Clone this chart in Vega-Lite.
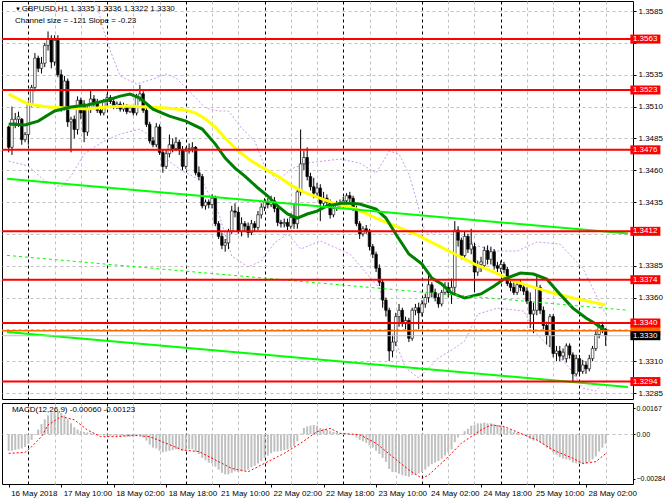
{
"$schema": "https://vega.github.io/schema/vega-lite/v6.json",
"padding": 0,
"background": "white",
"config": {"font": "Liberation Sans", "view": {"stroke": "black", "strokeWidth": 1}, "concat": {"spacing": 2},
  "axis": {"labelFontSize": 8, "labelColor": "black", "labelFont": "Liberation Sans", "title": null, "tickCount": 200}},
"datasets": {
"candles": [
{"i":0,"o":1.3494,"h":1.3495,"l":1.3474,"c":1.3478,"m":-0.00105},
{"i":1,"o":1.3478,"h":1.3510,"l":1.3472,"c":1.3500,"m":-0.00105},
{"i":2,"o":1.3497,"h":1.3505,"l":1.3493,"c":1.3500,"m":-0.00100},
{"i":3,"o":1.3500,"h":1.3506,"l":1.3494,"c":1.3502,"m":-0.00095},
{"i":4,"o":1.3500,"h":1.3501,"l":1.3480,"c":1.3484,"m":-0.00090},
{"i":5,"o":1.3484,"h":1.3490,"l":1.3482,"c":1.3488,"m":-0.00080},
{"i":6,"o":1.3488,"h":1.3514,"l":1.3480,"c":1.3512,"m":-0.00060},
{"i":7,"o":1.3512,"h":1.3527,"l":1.3510,"c":1.3525,"m":-0.00035},
{"i":8,"o":1.3525,"h":1.3552,"l":1.3522,"c":1.3548,"m":-0.00005},
{"i":9,"o":1.3548,"h":1.3550,"l":1.3537,"c":1.3540,"m":0.00030},
{"i":10,"o":1.3540,"h":1.3549,"l":1.3536,"c":1.3544,"m":0.00065},
{"i":11,"o":1.3544,"h":1.3560,"l":1.3541,"c":1.3558,"m":0.00095},
{"i":12,"o":1.3558,"h":1.3569,"l":1.3554,"c":1.3563,"m":0.00120},
{"i":13,"o":1.3563,"h":1.3566,"l":1.3540,"c":1.3545,"m":0.00140},
{"i":14,"o":1.3545,"h":1.3566,"l":1.3542,"c":1.3562,"m":0.00145},
{"i":15,"o":1.3562,"h":1.3566,"l":1.3533,"c":1.3535,"m":0.00145},
{"i":16,"o":1.3535,"h":1.3539,"l":1.3506,"c":1.3509,"m":0.00135},
{"i":17,"o":1.3510,"h":1.3534,"l":1.3507,"c":1.3530,"m":0.00120},
{"i":18,"o":1.3530,"h":1.3532,"l":1.3494,"c":1.3498,"m":0.00095},
{"i":19,"o":1.3498,"h":1.3502,"l":1.3474,"c":1.3500,"m":0.00070},
{"i":20,"o":1.3500,"h":1.3503,"l":1.3485,"c":1.3492,"m":0.00045},
{"i":21,"o":1.3492,"h":1.3518,"l":1.3488,"c":1.3515,"m":0.00030},
{"i":22,"o":1.3515,"h":1.3517,"l":1.3500,"c":1.3505,"m":0.00020},
{"i":23,"o":1.3512,"h":1.3515,"l":1.3482,"c":1.3490,"m":0.00015},
{"i":24,"o":1.3490,"h":1.3510,"l":1.3487,"c":1.3508,"m":0.00012},
{"i":25,"o":1.3508,"h":1.3523,"l":1.3505,"c":1.3516,"m":0.00010},
{"i":26,"o":1.3516,"h":1.3519,"l":1.3510,"c":1.3513,"m":0.00005},
{"i":27,"o":1.3513,"h":1.3516,"l":1.3505,"c":1.3507,"m":0.0},
{"i":28,"o":1.3507,"h":1.3510,"l":1.3503,"c":1.3505,"m":-0.00005},
{"i":29,"o":1.3505,"h":1.3516,"l":1.3503,"c":1.3514,"m":-0.00008},
{"i":30,"o":1.3514,"h":1.3520,"l":1.3510,"c":1.3517,"m":-0.00008},
{"i":31,"o":1.3517,"h":1.3519,"l":1.3512,"c":1.3514,"m":-0.00010},
{"i":32,"o":1.3514,"h":1.3517,"l":1.3508,"c":1.3510,"m":-0.00010},
{"i":33,"o":1.3510,"h":1.3514,"l":1.3508,"c":1.3512,"m":-0.00012},
{"i":34,"o":1.3512,"h":1.3514,"l":1.3506,"c":1.3508,"m":-0.00012},
{"i":35,"o":1.3508,"h":1.3513,"l":1.3506,"c":1.3510,"m":-0.00013},
{"i":36,"o":1.3510,"h":1.3512,"l":1.3504,"c":1.3506,"m":-0.00015},
{"i":37,"o":1.3506,"h":1.3511,"l":1.3505,"c":1.3509,"m":-0.00015},
{"i":38,"o":1.3509,"h":1.3510,"l":1.3503,"c":1.3505,"m":-0.00018},
{"i":39,"o":1.3505,"h":1.3520,"l":1.3503,"c":1.3517,"m":-0.00010},
{"i":40,"o":1.3517,"h":1.3527,"l":1.3514,"c":1.3520,"m":-0.00005},
{"i":41,"o":1.3520,"h":1.3522,"l":1.3505,"c":1.3507,"m":-0.00020},
{"i":42,"o":1.3507,"h":1.3509,"l":1.3494,"c":1.3496,"m":-0.00040},
{"i":43,"o":1.3496,"h":1.3498,"l":1.3481,"c":1.3483,"m":-0.00065},
{"i":44,"o":1.3483,"h":1.3486,"l":1.3478,"c":1.3480,"m":-0.00085},
{"i":45,"o":1.3480,"h":1.3497,"l":1.3478,"c":1.3494,"m":-0.00090},
{"i":46,"o":1.3494,"h":1.3496,"l":1.3472,"c":1.3474,"m":-0.00105},
{"i":47,"o":1.3474,"h":1.3476,"l":1.3458,"c":1.3463,"m":-0.00115},
{"i":48,"o":1.3463,"h":1.3476,"l":1.3461,"c":1.3473,"m":-0.00110},
{"i":49,"o":1.3473,"h":1.3488,"l":1.3470,"c":1.3480,"m":-0.00105},
{"i":50,"o":1.3480,"h":1.3485,"l":1.3474,"c":1.3477,"m":-0.00100},
{"i":51,"o":1.3477,"h":1.3486,"l":1.3475,"c":1.3482,"m":-0.00095},
{"i":52,"o":1.3482,"h":1.3484,"l":1.3472,"c":1.3476,"m":-0.00095},
{"i":53,"o":1.3476,"h":1.3479,"l":1.3460,"c":1.3463,"m":-0.00105},
{"i":54,"o":1.3463,"h":1.3478,"l":1.3461,"c":1.3475,"m":-0.00100},
{"i":55,"o":1.3475,"h":1.3481,"l":1.3473,"c":1.3477,"m":-0.00095},
{"i":56,"o":1.3477,"h":1.3482,"l":1.3474,"c":1.3478,"m":-0.00095},
{"i":57,"o":1.3478,"h":1.3479,"l":1.3456,"c":1.3458,"m":-0.00110},
{"i":58,"o":1.3458,"h":1.3463,"l":1.3452,"c":1.3455,"m":-0.00125},
{"i":59,"o":1.3455,"h":1.3457,"l":1.3430,"c":1.3432,"m":-0.00150},
{"i":60,"o":1.3432,"h":1.3437,"l":1.3429,"c":1.3435,"m":-0.00165},
{"i":61,"o":1.3435,"h":1.3437,"l":1.3430,"c":1.3433,"m":-0.00180},
{"i":62,"o":1.3433,"h":1.3441,"l":1.3430,"c":1.3438,"m":-0.00185},
{"i":63,"o":1.3438,"h":1.3440,"l":1.3416,"c":1.3418,"m":-0.00205},
{"i":64,"o":1.3418,"h":1.3420,"l":1.3406,"c":1.3408,"m":-0.00225},
{"i":65,"o":1.3408,"h":1.3411,"l":1.3398,"c":1.3401,"m":-0.00245},
{"i":66,"o":1.3401,"h":1.3406,"l":1.3396,"c":1.3403,"m":-0.00255},
{"i":67,"o":1.3403,"h":1.3414,"l":1.3398,"c":1.3412,"m":-0.00255},
{"i":68,"o":1.3412,"h":1.3432,"l":1.3410,"c":1.3428,"m":-0.00245},
{"i":69,"o":1.3428,"h":1.3434,"l":1.3423,"c":1.3427,"m":-0.00235},
{"i":70,"o":1.3427,"h":1.3431,"l":1.3410,"c":1.3412,"m":-0.00240},
{"i":71,"o":1.3412,"h":1.3423,"l":1.3408,"c":1.3418,"m":-0.00235},
{"i":72,"o":1.3418,"h":1.3420,"l":1.3412,"c":1.3416,"m":-0.00230},
{"i":73,"o":1.3416,"h":1.3419,"l":1.3407,"c":1.3411,"m":-0.00225},
{"i":74,"o":1.3411,"h":1.3421,"l":1.3409,"c":1.3418,"m":-0.00210},
{"i":75,"o":1.3418,"h":1.3420,"l":1.3412,"c":1.3415,"m":-0.00200},
{"i":76,"o":1.3415,"h":1.3428,"l":1.3413,"c":1.3425,"m":-0.00185},
{"i":77,"o":1.3425,"h":1.3434,"l":1.3422,"c":1.3431,"m":-0.00170},
{"i":78,"o":1.3431,"h":1.3438,"l":1.3428,"c":1.3435,"m":-0.00150},
{"i":79,"o":1.3435,"h":1.3438,"l":1.3430,"c":1.3433,"m":-0.00135},
{"i":80,"o":1.3433,"h":1.3440,"l":1.3431,"c":1.3436,"m":-0.00120},
{"i":81,"o":1.3436,"h":1.3439,"l":1.3427,"c":1.3430,"m":-0.00110},
{"i":82,"o":1.3430,"h":1.3432,"l":1.3416,"c":1.3419,"m":-0.00110},
{"i":83,"o":1.3419,"h":1.3421,"l":1.3415,"c":1.3418,"m":-0.00105},
{"i":84,"o":1.3418,"h":1.3422,"l":1.3415,"c":1.3419,"m":-0.00100},
{"i":85,"o":1.3419,"h":1.3422,"l":1.3413,"c":1.3416,"m":-0.00095},
{"i":86,"o":1.3416,"h":1.3426,"l":1.3414,"c":1.3423,"m":-0.00085},
{"i":87,"o":1.3423,"h":1.3433,"l":1.3414,"c":1.3418,"m":-0.00075},
{"i":88,"o":1.3418,"h":1.3446,"l":1.3414,"c":1.3443,"m":-0.00045},
{"i":89,"o":1.3443,"h":1.3492,"l":1.3440,"c":1.3465,"m":0.00005},
{"i":90,"o":1.3465,"h":1.3475,"l":1.3460,"c":1.3470,"m":0.00040},
{"i":91,"o":1.3470,"h":1.3478,"l":1.3452,"c":1.3455,"m":0.00050},
{"i":92,"o":1.3455,"h":1.3458,"l":1.3444,"c":1.3447,"m":0.00055},
{"i":93,"o":1.3447,"h":1.3454,"l":1.3438,"c":1.3442,"m":0.00060},
{"i":94,"o":1.3442,"h":1.3450,"l":1.3440,"c":1.3446,"m":0.00055},
{"i":95,"o":1.3446,"h":1.3449,"l":1.3420,"c":1.3434,"m":0.00040},
{"i":96,"o":1.3434,"h":1.3443,"l":1.3430,"c":1.3438,"m":0.00035},
{"i":97,"o":1.3438,"h":1.3441,"l":1.3432,"c":1.3435,"m":0.00030},
{"i":98,"o":1.3435,"h":1.3437,"l":1.3422,"c":1.3425,"m":0.00020},
{"i":99,"o":1.3425,"h":1.3433,"l":1.3423,"c":1.3430,"m":0.00015},
{"i":100,"o":1.3430,"h":1.3436,"l":1.3428,"c":1.3434,"m":0.00012},
{"i":101,"o":1.3434,"h":1.3437,"l":1.3431,"c":1.3433,"m":0.00008},
{"i":102,"o":1.3433,"h":1.3439,"l":1.3431,"c":1.3436,"m":0.00005},
{"i":103,"o":1.3436,"h":1.3442,"l":1.3433,"c":1.3440,"m":0.00005},
{"i":104,"o":1.3440,"h":1.3443,"l":1.3435,"c":1.3438,"m":0.00002},
{"i":105,"o":1.3438,"h":1.3440,"l":1.3428,"c":1.3430,"m":-0.00005},
{"i":106,"o":1.3430,"h":1.3432,"l":1.3416,"c":1.3418,"m":-0.00020},
{"i":107,"o":1.3418,"h":1.3420,"l":1.3406,"c":1.3410,"m":-0.00035},
{"i":108,"o":1.3410,"h":1.3416,"l":1.3408,"c":1.3414,"m":-0.00045},
{"i":109,"o":1.3414,"h":1.3417,"l":1.3410,"c":1.3412,"m":-0.00055},
{"i":110,"o":1.3412,"h":1.3414,"l":1.3397,"c":1.3400,"m":-0.00070},
{"i":111,"o":1.3400,"h":1.3402,"l":1.3391,"c":1.3394,"m":-0.00085},
{"i":112,"o":1.3394,"h":1.3396,"l":1.3380,"c":1.3383,"m":-0.00105},
{"i":113,"o":1.3383,"h":1.3386,"l":1.3369,"c":1.3372,"m":-0.00125},
{"i":114,"o":1.3372,"h":1.3374,"l":1.3352,"c":1.3358,"m":-0.00150},
{"i":115,"o":1.3358,"h":1.3360,"l":1.3345,"c":1.3350,"m":-0.00175},
{"i":116,"o":1.3350,"h":1.3352,"l":1.3310,"c":1.3318,"m":-0.00220},
{"i":117,"o":1.3318,"h":1.3330,"l":1.3313,"c":1.3325,"m":-0.00240},
{"i":118,"o":1.3325,"h":1.3348,"l":1.3322,"c":1.3345,"m":-0.00240},
{"i":119,"o":1.3345,"h":1.3355,"l":1.3337,"c":1.3350,"m":-0.00250},
{"i":120,"o":1.3350,"h":1.3352,"l":1.3337,"c":1.3340,"m":-0.00260},
{"i":121,"o":1.3340,"h":1.3345,"l":1.3335,"c":1.3342,"m":-0.00265},
{"i":122,"o":1.3342,"h":1.3344,"l":1.3325,"c":1.3328,"m":-0.00270},
{"i":123,"o":1.3328,"h":1.3352,"l":1.3326,"c":1.3350,"m":-0.00260},
{"i":124,"o":1.3350,"h":1.3355,"l":1.3346,"c":1.3352,"m":-0.00255},
{"i":125,"o":1.3352,"h":1.3356,"l":1.3335,"c":1.3348,"m":-0.00250},
{"i":126,"o":1.3348,"h":1.3358,"l":1.3345,"c":1.3355,"m":-0.00240},
{"i":127,"o":1.3355,"h":1.3363,"l":1.3352,"c":1.3360,"m":-0.00225},
{"i":128,"o":1.3360,"h":1.3378,"l":1.3356,"c":1.3370,"m":-0.00205},
{"i":129,"o":1.3370,"h":1.3372,"l":1.3360,"c":1.3364,"m":-0.00190},
{"i":130,"o":1.3364,"h":1.3367,"l":1.3357,"c":1.3360,"m":-0.00180},
{"i":131,"o":1.3360,"h":1.3363,"l":1.3352,"c":1.3355,"m":-0.00170},
{"i":132,"o":1.3355,"h":1.3366,"l":1.3353,"c":1.3364,"m":-0.00155},
{"i":133,"o":1.3364,"h":1.3372,"l":1.3362,"c":1.3368,"m":-0.00135},
{"i":134,"o":1.3368,"h":1.3372,"l":1.3360,"c":1.3364,"m":-0.00115},
{"i":135,"o":1.3364,"h":1.3375,"l":1.3355,"c":1.3368,"m":-0.00095},
{"i":136,"o":1.3368,"h":1.3420,"l":1.3362,"c":1.3413,"m":-0.00050},
{"i":137,"o":1.3413,"h":1.3416,"l":1.3400,"c":1.3405,"m":-0.00020},
{"i":138,"o":1.3405,"h":1.3407,"l":1.3390,"c":1.3393,"m":-0.00005},
{"i":139,"o":1.3393,"h":1.3412,"l":1.3390,"c":1.3408,"m":0.00020},
{"i":140,"o":1.3408,"h":1.3410,"l":1.3395,"c":1.3398,"m":0.00035},
{"i":141,"o":1.3398,"h":1.3414,"l":1.3394,"c":1.3402,"m":0.00055},
{"i":142,"o":1.3400,"h":1.3403,"l":1.3364,"c":1.3380,"m":0.00060},
{"i":143,"o":1.3380,"h":1.3389,"l":1.3377,"c":1.3386,"m":0.00070},
{"i":144,"o":1.3386,"h":1.3392,"l":1.3380,"c":1.3388,"m":0.00070},
{"i":145,"o":1.3385,"h":1.3400,"l":1.3383,"c":1.3397,"m":0.00075},
{"i":146,"o":1.3397,"h":1.3401,"l":1.3386,"c":1.3390,"m":0.00070},
{"i":147,"o":1.3390,"h":1.3400,"l":1.3386,"c":1.3396,"m":0.00070},
{"i":148,"o":1.3396,"h":1.3398,"l":1.3382,"c":1.3385,"m":0.00065},
{"i":149,"o":1.3385,"h":1.3388,"l":1.3380,"c":1.3383,"m":0.00060},
{"i":150,"o":1.3383,"h":1.3389,"l":1.3380,"c":1.3386,"m":0.00055},
{"i":151,"o":1.3386,"h":1.3388,"l":1.3379,"c":1.3382,"m":0.00045},
{"i":152,"o":1.3382,"h":1.3384,"l":1.3369,"c":1.3371,"m":0.00035},
{"i":153,"o":1.3371,"h":1.3374,"l":1.3365,"c":1.3368,"m":0.00025},
{"i":154,"o":1.3368,"h":1.3372,"l":1.3362,"c":1.3364,"m":0.00015},
{"i":155,"o":1.3364,"h":1.3373,"l":1.3362,"c":1.3370,"m":0.00010},
{"i":156,"o":1.3370,"h":1.3374,"l":1.3365,"c":1.3368,"m":0.00005},
{"i":157,"o":1.3368,"h":1.3371,"l":1.3362,"c":1.3365,"m":-0.00005},
{"i":158,"o":1.3365,"h":1.3368,"l":1.3355,"c":1.3357,"m":-0.00015},
{"i":159,"o":1.3357,"h":1.3364,"l":1.3336,"c":1.3347,"m":-0.00030},
{"i":160,"o":1.3347,"h":1.3356,"l":1.3332,"c":1.3350,"m":-0.00040},
{"i":161,"o":1.3350,"h":1.3377,"l":1.3346,"c":1.3368,"m":-0.00035},
{"i":162,"o":1.3368,"h":1.3370,"l":1.3347,"c":1.3350,"m":-0.00050},
{"i":163,"o":1.3350,"h":1.3353,"l":1.3335,"c":1.3338,"m":-0.00065},
{"i":164,"o":1.3338,"h":1.3341,"l":1.3323,"c":1.3330,"m":-0.00085},
{"i":165,"o":1.3330,"h":1.3347,"l":1.3321,"c":1.3345,"m":-0.00095},
{"i":166,"o":1.3345,"h":1.3347,"l":1.3313,"c":1.3316,"m":-0.00115},
{"i":167,"o":1.3316,"h":1.3322,"l":1.3310,"c":1.3318,"m":-0.00130},
{"i":168,"o":1.3318,"h":1.3322,"l":1.3310,"c":1.3314,"m":-0.00145},
{"i":169,"o":1.3314,"h":1.3320,"l":1.3311,"c":1.3317,"m":-0.00155},
{"i":170,"o":1.3312,"h":1.3324,"l":1.3309,"c":1.3322,"m":-0.00160},
{"i":171,"o":1.3322,"h":1.3324,"l":1.3312,"c":1.3315,"m":-0.00165},
{"i":172,"o":1.3315,"h":1.3317,"l":1.3293,"c":1.3300,"m":-0.00180},
{"i":173,"o":1.3300,"h":1.3315,"l":1.3298,"c":1.3312,"m":-0.00185},
{"i":174,"o":1.3312,"h":1.3315,"l":1.3299,"c":1.3302,"m":-0.00190},
{"i":175,"o":1.3302,"h":1.3311,"l":1.3300,"c":1.3307,"m":-0.00190},
{"i":176,"o":1.3307,"h":1.3310,"l":1.3300,"c":1.3304,"m":-0.00185},
{"i":177,"o":1.3304,"h":1.3315,"l":1.3302,"c":1.3312,"m":-0.00175},
{"i":178,"o":1.3312,"h":1.3322,"l":1.3310,"c":1.3320,"m":-0.00160},
{"i":179,"o":1.3320,"h":1.3334,"l":1.3318,"c":1.3331,"m":-0.00140},
{"i":180,"o":1.3331,"h":1.3340,"l":1.3328,"c":1.3338,"m":-0.00110},
{"i":181,"o":1.3338,"h":1.3341,"l":1.3332,"c":1.3335,"m":-0.00085},
{"i":182,"o":1.3335,"h":1.3336,"l":1.3322,"c":1.3330,"m":-0.00060}
],
"maYellow": [
{"i":0,"v":1.35198},{"i":6,"v":1.35120},{"i":12,"v":1.35096},{"i":18,"v":1.35088},{"i":24,"v":1.35080},{"i":30,"v":1.35096},{"i":36,"v":1.35104},{"i":42,"v":1.35096},{"i":48,"v":1.35088},{"i":54,"v":1.35072},{"i":57,"v":1.35049},{"i":60,"v":1.35002},{"i":63,"v":1.34939},{"i":66,"v":1.34853},{"i":70,"v":1.34750},{"i":74,"v":1.34672},{"i":78,"v":1.34609},{"i":82,"v":1.34554},{"i":86,"v":1.34483},{"i":90,"v":1.34428},{"i":94,"v":1.34389},{"i":100,"v":1.34334},{"i":106,"v":1.34295},{"i":112,"v":1.34224},{"i":118,"v":1.34161},{"i":124,"v":1.34099},{"i":130,"v":1.34020},{"i":136,"v":1.33942},{"i":142,"v":1.33863},{"i":148,"v":1.33800},{"i":154,"v":1.33729},{"i":160,"v":1.33682},{"i":166,"v":1.33635},{"i":172,"v":1.33596},{"i":178,"v":1.33564},{"i":182,"v":1.33541}
],
"maGreen": [
{"i":0,"v":1.34963},{"i":5,"v":1.34955},{"i":9,"v":1.34986},{"i":14,"v":1.35065},{"i":19,"v":1.35096},{"i":24,"v":1.35112},{"i":29,"v":1.35143},{"i":34,"v":1.35182},{"i":37,"v":1.35198},{"i":40,"v":1.35167},{"i":44,"v":1.35080},{"i":49,"v":1.35025},{"i":54,"v":1.34986},{"i":59,"v":1.34923},{"i":63,"v":1.34805},{"i":66,"v":1.34695},{"i":69,"v":1.34617},{"i":72,"v":1.34554},{"i":76,"v":1.34460},{"i":79,"v":1.34397},{"i":82,"v":1.34319},{"i":85,"v":1.34256},{"i":88,"v":1.34224},{"i":91,"v":1.34256},{"i":94,"v":1.34279},{"i":97,"v":1.34319},{"i":102,"v":1.34342},{"i":107,"v":1.34334},{"i":112,"v":1.34295},{"i":115,"v":1.34224},{"i":118,"v":1.34099},{"i":122,"v":1.33942},{"i":126,"v":1.33863},{"i":129,"v":1.33753},{"i":132,"v":1.33706},{"i":135,"v":1.33635},{"i":139,"v":1.33596},{"i":144,"v":1.33628},{"i":148,"v":1.33690},{"i":151,"v":1.33745},{"i":156,"v":1.33792},{"i":160,"v":1.33784},{"i":164,"v":1.33745},{"i":168,"v":1.33628},{"i":172,"v":1.33517},{"i":176,"v":1.33439},{"i":179,"v":1.33392},{"i":182,"v":1.33337}
],
"bandUpper": [
{"i":24,"v":1.36007},{"i":27,"v":1.35889},{"i":29,"v":1.35693},{"i":31,"v":1.35536},{"i":34,"v":1.35340},{"i":39,"v":1.35277},{"i":44,"v":1.35316},{"i":48,"v":1.35355},{"i":51,"v":1.35324},{"i":55,"v":1.35222},{"i":60,"v":1.35088},{"i":64,"v":1.35065},{"i":67,"v":1.35065},{"i":71,"v":1.34931},{"i":75,"v":1.34829},{"i":78,"v":1.34633},{"i":82,"v":1.34515},{"i":86,"v":1.34609},{"i":91,"v":1.34656},{"i":101,"v":1.34688},{"i":107,"v":1.34656},{"i":112,"v":1.34578},{"i":116,"v":1.34750},{"i":119,"v":1.34727},{"i":122,"v":1.34570},{"i":124,"v":1.34397},{"i":127,"v":1.34106},{"i":136,"v":1.34122},{"i":143,"v":1.34004},{"i":149,"v":1.33965},{"i":155,"v":1.33965},{"i":161,"v":1.34036},{"i":168,"v":1.34020},{"i":175,"v":1.33831},{"i":180,"v":1.33572},{"i":182,"v":1.33470}
],
"bandLower": [
{"i":0,"v":1.34672},{"i":6,"v":1.34633},{"i":11,"v":1.34515},{"i":16,"v":1.34468},{"i":19,"v":1.34554},{"i":23,"v":1.34727},{"i":29,"v":1.34829},{"i":34,"v":1.34884},{"i":40,"v":1.34923},{"i":44,"v":1.34853},{"i":48,"v":1.34688},{"i":53,"v":1.34593},{"i":59,"v":1.34515},{"i":64,"v":1.34263},{"i":68,"v":1.33926},{"i":73,"v":1.33839},{"i":77,"v":1.33887},{"i":81,"v":1.34028},{"i":85,"v":1.34099},{"i":89,"v":1.33981},{"i":95,"v":1.34044},{"i":104,"v":1.33942},{"i":113,"v":1.33674},{"i":117,"v":1.33313},{"i":121,"v":1.33046},{"i":125,"v":1.32968},{"i":131,"v":1.33125},{"i":136,"v":1.33203},{"i":139,"v":1.33258},{"i":143,"v":1.33470},{"i":149,"v":1.33517},{"i":157,"v":1.33494},{"i":161,"v":1.33313},{"i":167,"v":1.33156},{"i":171,"v":1.33046},{"i":175,"v":1.32889},{"i":179,"v":1.32866},{"i":182,"v":1.32944}
],
"channel": [
{"line":"upper","i":-0.51,"v":1.34533},{"line":"upper","i":188.8,"v":1.34102},
{"line":"lower","i":-0.51,"v":1.33329},{"line":"lower","i":188.8,"v":1.32898},
{"line":"middle","i":-0.51,"v":1.33931},{"line":"middle","i":188.8,"v":1.33500}
],
"levels": [
{"level":1.3334,"label":"1.3334","kind":"ask"},
{"level":1.3563,"label":"1.3563","kind":"level"},
{"level":1.3523,"label":"1.3523","kind":"level"},
{"level":1.3476,"label":"1.3476","kind":"level"},
{"level":1.3412,"label":"1.3412","kind":"level"},
{"level":1.3374,"label":"1.3374","kind":"level"},
{"level":1.3340,"label":"1.3340","kind":"level"},
{"level":1.3294,"label":"1.3294","kind":"level"},
{"level":1.3330,"label":"1.3330","kind":"bid"}
],
"signal": [
{"i":0,"v":-0.00121},{"i":5,"v":-0.00115},{"i":7,"v":-0.00079},{"i":10,"v":-0.00015},{"i":12,"v":0.00060},{"i":16,"v":0.00113},{"i":20,"v":0.00092},{"i":24,"v":0.00028},{"i":28,"v":-0.00015},{"i":33,"v":-0.00015},{"i":38,"v":-0.00006},{"i":43,"v":-0.00015},{"i":48,"v":-0.00057},{"i":53,"v":-0.00100},{"i":58,"v":-0.00110},{"i":63,"v":-0.00163},{"i":68,"v":-0.00217},{"i":73,"v":-0.00238},{"i":79,"v":-0.00174},{"i":84,"v":-0.00121},{"i":89,"v":-0.00057},{"i":94,"v":0.00017},{"i":98,"v":0.00038},{"i":101,"v":0.00006},{"i":107,"v":-0.00002},{"i":112,"v":-0.00057},{"i":117,"v":-0.00142},{"i":122,"v":-0.00227},{"i":126,"v":-0.00280},{"i":128,"v":-0.00259},{"i":133,"v":-0.00163},{"i":138,"v":-0.00057},{"i":144,"v":0.00028},{"i":147,"v":0.00059},{"i":151,"v":0.00049},{"i":156,"v":0.00006},{"i":161,"v":-0.00036},{"i":166,"v":-0.00100},{"i":172,"v":-0.00153},{"i":175,"v":-0.00185},{"i":179,"v":-0.00174},{"i":182,"v":-0.00123}
]
},
"vconcat": [
{
"width": 631, "height": 398,
"layer": [
{"data": {"name": "bandUpper"}, "mark": {"type": "line", "color": "#cc99ee", "strokeWidth": 1, "strokeDash": [2, 2], "clip": true},
 "encoding": {
  "x": {"field": "i", "type": "quantitative", "scale": {"domain": [-0.51, 188.8], "nice": false, "zero": false},
    "axis": {"values": [6,14,22,30,38,46,54,62,70,78,86,94,102,110,118,126,134,142,150,158,166,174,182], "tickCount": 200, "labels": false, "ticks": false, "domain": false, "grid": true, "gridDash": [3, 3], "gridWidth": 1,
      "gridColor": {"condition": {"test": "datum.value % 24 == 6", "value": "#000000"}, "value": "#c0c0c0"}}},
  "y": {"field": "v", "type": "quantitative", "scale": {"domain": [1.32803, 1.35929], "nice": false, "zero": false},
    "axis": {"orient": "right", "values": [1.3285,1.3310,1.3335,1.3360,1.3385,1.3410,1.3435,1.3460,1.3485,1.3510,1.3535,1.3560,1.3585], "tickCount": 200,
      "labelExpr": "abs(datum.value - 1.3335) < 0.00001 || abs(datum.value - 1.3410) < 0.00001 || abs(datum.value - 1.3560) < 0.00001 ? '' : format(datum.value, '.4f')",
      "grid": true, "gridColor": "#c0c0c0", "gridDash": [3, 3], "tickSize": 3, "tickColor": "#000000", "domain": false, "labelPadding": 2, "labelOverlap": false, "labelFlush": false}}
 }},
{"data": {"name": "bandLower"}, "mark": {"type": "line", "color": "#cc99ee", "strokeWidth": 1, "strokeDash": [2, 2], "clip": true},
 "encoding": {"x": {"field": "i", "type": "quantitative"}, "y": {"field": "v", "type": "quantitative"}}},
{"data": {"name": "candles"}, "mark": {"type": "rule", "color": "#000000", "strokeWidth": 1},
 "encoding": {"x": {"field": "i", "type": "quantitative"}, "y": {"field": "l", "type": "quantitative"}, "y2": {"field": "h"}}},
{"data": {"name": "candles"}, "mark": {"type": "bar", "width": 2.6, "stroke": "#000000", "strokeWidth": 0.6},
 "encoding": {"x": {"field": "i", "type": "quantitative"}, "y": {"field": "o", "type": "quantitative"}, "y2": {"field": "c"},
  "fill": {"condition": {"test": "datum.c >= datum.o", "value": "#ffffff"}, "value": "#000000"}}},
{"data": {"name": "maYellow"}, "mark": {"type": "line", "color": "#ffff00", "strokeWidth": 3},
 "encoding": {"x": {"field": "i", "type": "quantitative"}, "y": {"field": "v", "type": "quantitative"}}},
{"data": {"name": "maGreen"}, "mark": {"type": "line", "color": "#008000", "strokeWidth": 3},
 "encoding": {"x": {"field": "i", "type": "quantitative"}, "y": {"field": "v", "type": "quantitative"}}},
{"data": {"name": "channel"}, "transform": [{"filter": "datum.line != 'middle'"}], "mark": {"type": "line", "color": "#00ff00", "strokeWidth": 2, "clip": true},
 "encoding": {"x": {"field": "i", "type": "quantitative"}, "y": {"field": "v", "type": "quantitative"}, "detail": {"field": "line"}}},
{"data": {"name": "channel"}, "transform": [{"filter": "datum.line == 'middle'"}], "mark": {"type": "line", "color": "#00ff00", "strokeWidth": 1, "strokeDash": [3, 3], "clip": true},
 "encoding": {"x": {"field": "i", "type": "quantitative"}, "y": {"field": "v", "type": "quantitative"}}},
{"data": {"name": "levels"}, "mark": {"type": "rule"},
 "encoding": {"y": {"field": "level", "type": "quantitative"},
  "stroke": {"field": "kind", "type": "nominal", "scale": {"domain": ["level", "ask", "bid"], "range": ["#ff0000", "#ff6a00", "#c0c0c0"]}, "legend": null},
  "strokeWidth": {"field": "kind", "type": "nominal", "scale": {"domain": ["level", "ask", "bid"], "range": [2, 1, 1]}, "legend": null}}},
{"data": {"name": "levels"}, "mark": {"type": "tick", "orient": "horizontal", "size": 30, "thickness": 9, "opacity": 1},
 "encoding": {"x": {"datum": 194.1, "type": "quantitative"}, "y": {"field": "level", "type": "quantitative"},
  "fill": {"field": "kind", "type": "nominal", "scale": {"domain": ["level", "ask", "bid"], "range": ["#ff0000", "#ff6a00", "#000000"]}, "legend": null}}},
{"data": {"name": "levels"}, "transform": [{"filter": "datum.kind != 'ask'"}], "mark": {"type": "text", "align": "left", "baseline": "middle", "fontSize": 8, "color": "#ffffff"},
 "encoding": {"x": {"datum": 190.3, "type": "quantitative"}, "y": {"field": "level", "type": "quantitative"}, "text": {"field": "label"}}},
{"data": {"values": [{}]}, "mark": {"type": "text", "text": "▼", "align": "left", "baseline": "middle", "fontSize": 6, "color": "#000000"},
 "encoding": {"x": {"datum": 1.9, "type": "quantitative"}, "y": {"datum": 1.35866, "type": "quantitative"}}},
{"data": {"values": [{}]}, "mark": {"type": "text", "text": "GBPUSD,H1  1.3335 1.3336 1.3322 1.3330", "align": "left", "baseline": "middle", "fontSize": 8, "color": "#000000"},
 "encoding": {"x": {"datum": 4.0, "type": "quantitative"}, "y": {"datum": 1.35866, "type": "quantitative"}}},
{"data": {"values": [{}]}, "mark": {"type": "text", "text": "Channel size = -121 Slope = -0.23", "align": "left", "baseline": "middle", "fontSize": 8, "color": "#000000"},
 "encoding": {"x": {"datum": 1.9, "type": "quantitative"}, "y": {"datum": 1.35771, "type": "quantitative"}}}
]
},
{
"width": 631, "height": 81,
"layer": [
{"data": {"name": "candles"}, "mark": {"type": "bar", "width": 2, "color": "#c0c0c0"},
 "encoding": {
  "x": {"field": "i", "type": "quantitative", "scale": {"domain": [-0.51, 188.8], "nice": false, "zero": false},
    "axis": {"values": [0,6,14,16,22,30,32,38,46,48,54,62,64,70,78,80,86,94,96,102,110,112,118,126,128,134,142,144,150,158,160,166,174,176,182], "tickCount": 200,
      "labelExpr": "datum.value % 16 == 0 ? ['16 May 2018','17 May 10:00','18 May 02:00','18 May 18:00','21 May 10:00','22 May 02:00','22 May 18:00','23 May 10:00','24 May 02:00','24 May 18:00','25 May 10:00','28 May 02:00'][round(datum.value / 16)] : ''",
      "labelAlign": "left", "labelOffset": 2, "labelPadding": 2, "tickSize": 3, "domain": false,
      "labelOverlap": false, "labelFlush": false, "labelBound": false,
      "tickColor": {"condition": {"test": "datum.value % 16 == 0", "value": "#000000"}, "value": "transparent"},
      "grid": true, "gridDash": [3, 3], "gridWidth": 1,
      "gridColor": {"condition": [{"test": "(datum.value - 6) % 8 != 0", "value": "transparent"}, {"test": "datum.value % 24 == 6", "value": "#000000"}], "value": "#c0c0c0"}}},
  "y": {"field": "m", "type": "quantitative", "scale": {"domain": [-0.00316, 0.00199], "nice": false, "zero": false},
    "axis": {"orient": "right", "values": [0.00167, 0, -0.00284], "tickCount": 200, "labelExpr": "datum.value == 0 ? '0.00' : format(datum.value, '.5f')", "labelFontSize": 7, "tickSize": 2, "tickColor": "#000000", "domain": false, "labelPadding": 1, "labelOverlap": false, "labelFlush": false,
      "grid": true, "gridDash": [3, 3], "gridColor": {"condition": {"test": "datum.value == 0", "value": "#c0c0c0"}, "value": "transparent"}}}
 }},
{"data": {"name": "signal"}, "mark": {"type": "line", "color": "#ff0000", "strokeWidth": 1, "strokeDash": [2, 2]},
 "encoding": {"x": {"field": "i", "type": "quantitative"}, "y": {"field": "v", "type": "quantitative"}}},
{"data": {"values": [{}]}, "mark": {"type": "text", "text": "MACD(12,26,9) -0.00060 -0.00123", "align": "left", "baseline": "middle", "fontSize": 8, "color": "#000000"},
 "encoding": {"x": {"datum": 1.0, "type": "quantitative"}, "y": {"datum": 0.00155, "type": "quantitative"}}}
]
}
]
}
